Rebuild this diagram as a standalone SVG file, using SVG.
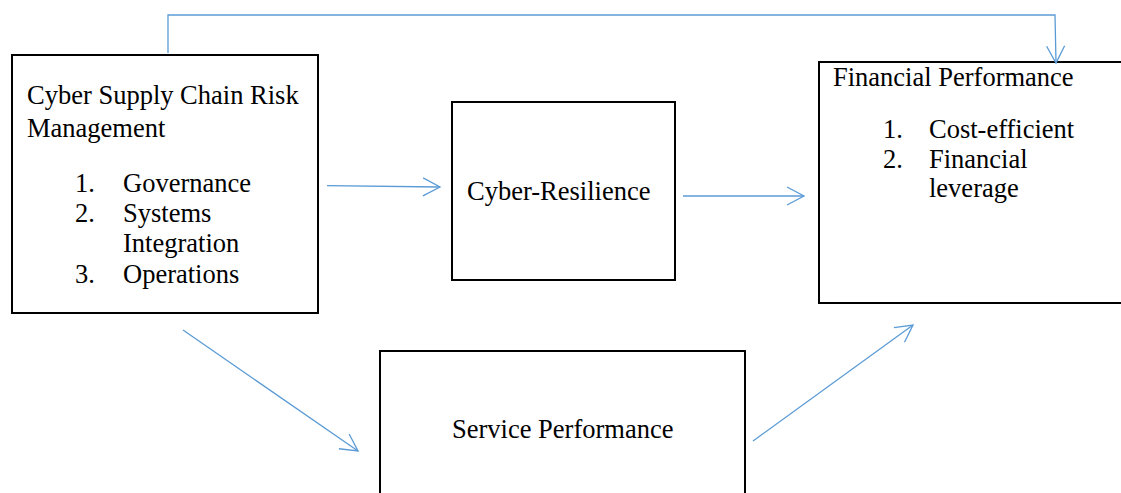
<svg xmlns="http://www.w3.org/2000/svg" width="1121" height="493" viewBox="0 0 1121 493">
  <style>
    .box { fill: #ffffff; stroke: #000000; stroke-width: 2; }
    .lbl { font-family: "Liberation Serif", "Times New Roman", serif; font-size: 26.5px; fill: #000000; }
    .link { fill: none; stroke: #5B9BD5; stroke-width: 1.3; }
  </style>
  <defs>
    <marker id="arrow" markerUnits="userSpaceOnUse" markerWidth="24" markerHeight="24" viewBox="-20 -12 24 24" refX="0" refY="0" orient="auto">
      <path d="M-17,-9 L0,0 L-17,9" fill="none" stroke="#5B9BD5" stroke-width="1.3"/>
    </marker>
  </defs>

  <!-- nodes -->
  <g id="node-cscrm">
    <rect class="box" x="12" y="55" width="306" height="258"/>
    <text class="lbl" x="27" y="104">Cyber Supply Chain Risk</text>
    <text class="lbl" x="27" y="137">Management</text>
    <text class="lbl" x="75" y="192">1.</text>
    <text class="lbl" x="123" y="192">Governance</text>
    <text class="lbl" x="75" y="222">2.</text>
    <text class="lbl" x="123" y="222">Systems</text>
    <text class="lbl" x="123" y="252">Integration</text>
    <text class="lbl" x="75" y="283">3.</text>
    <text class="lbl" x="123" y="283">Operations</text>
  </g>

  <g id="node-resilience">
    <rect class="box" x="452" y="102" width="223" height="178"/>
    <text class="lbl" x="467" y="200">Cyber-Resilience</text>
  </g>

  <g id="node-financial">
    <rect class="box" x="819" y="62" width="310" height="241"/>
    <text class="lbl" x="833" y="86">Financial Performance</text>
    <text class="lbl" x="883" y="138">1.</text>
    <text class="lbl" x="929" y="138">Cost-efficient</text>
    <text class="lbl" x="883" y="168">2.</text>
    <text class="lbl" x="929" y="168">Financial</text>
    <text class="lbl" x="929" y="197">leverage</text>
  </g>

  <g id="node-service">
    <rect class="box" x="380" y="351" width="365" height="150"/>
    <text class="lbl" x="452" y="438">Service Performance</text>
  </g>

  <!-- connectors -->
  <g id="connectors">
    <polyline class="link" points="168,53 168,15 1055,15 1056,63" marker-end="url(#arrow)"/>
    <line class="link" x1="327" y1="185.7" x2="440" y2="187" marker-end="url(#arrow)"/>
    <line class="link" x1="683" y1="196" x2="804" y2="196" marker-end="url(#arrow)"/>
    <line class="link" x1="183" y1="330" x2="358" y2="451" marker-end="url(#arrow)"/>
    <line class="link" x1="753" y1="441" x2="913" y2="325" marker-end="url(#arrow)"/>
  </g>
</svg>
